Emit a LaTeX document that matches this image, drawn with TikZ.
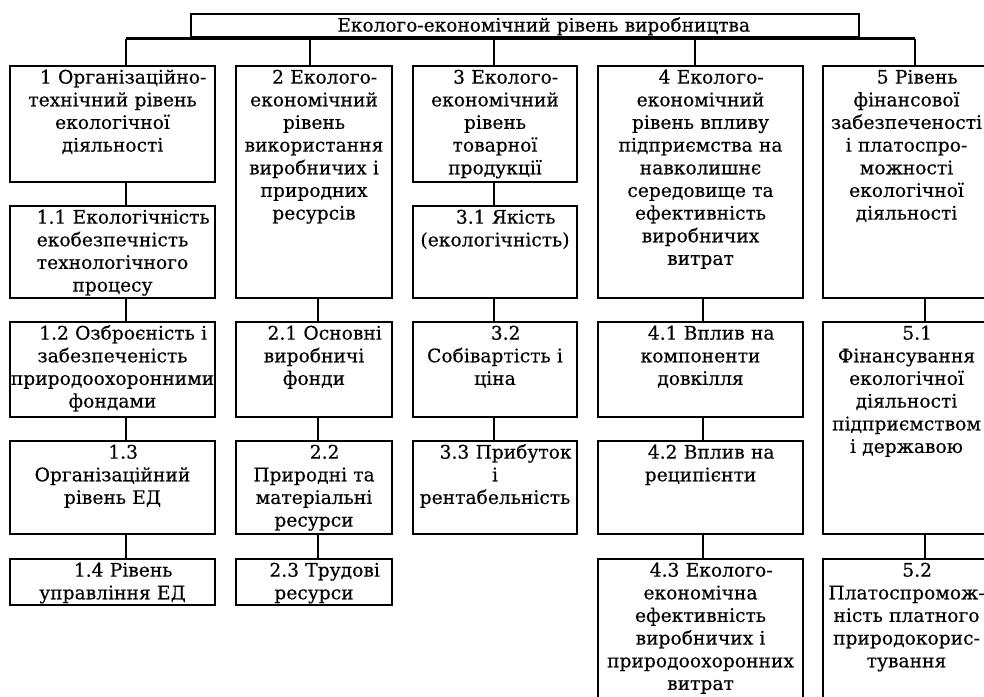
\documentclass[tikz,border=0pt]{standalone}
\usepackage{fontspec}
\setmainfont[FakeBold=0.35]{DejaVu Serif}
\usetikzlibrary{fit}
\tikzset{
  bx/.style={draw, line width=1.8pt, inner sep=0pt},
  tx/.style={align=center, inner sep=0pt, anchor=north,
    font=\fontsize{14pt}{17pt}\selectfont},
  conn/.style={line width=1.8pt}
}
\newcommand\ebox[7]{% name, x1, y1, x2, y2, indent, text
  \node[bx, fit={(#2,#3) (#4,#5)}] (#1) {};
  \pgfmathsetmacro\tw{(#4-#2)*0.75}
  \node[tx, text width=\tw pt] (#1t) at ([yshift=-1.9pt]#1.north)
    {\rule{0pt}{12pt}\hspace*{#6}#7};
}
\newcommand\wide[1]{\makebox[\hsize]{#1}}
\begin{document}
\begin{tikzpicture}[x=0.75pt, y=-0.75pt]
\useasboundingbox (0,0) rectangle (984,696);
% top
\ebox{top}{191}{14}{859}{37}{28pt}{\fontsize{13.9pt}{17pt}\selectfont Еколого-економічний рівень виробництва}
% column 1
\ebox{b1}{10}{66}{215}{182}{16pt}{1 Організаційно-\\технічний рівень\\екологічної\\діяльності}
\ebox{b11}{10}{206}{215}{298}{16pt}{1.1 Екологічність\\екобезпечність\\технологічного\\процесу}
\ebox{b12}{10}{322}{215}{417}{16pt}{1.2 Озброєність і\\забезпеченість\\\wide{природоохоронними}\\фондами}
\ebox{b13}{10}{441}{215}{534}{16pt}{1.3\\Організаційний\\рівень ЕД}
\ebox{b14}{10}{559}{215}{605}{16pt}{1.4 Рівень\\управління ЕД}
% column 2
\ebox{b2}{236}{66}{392}{298}{16pt}{2 Еколого-\\економічний\\рівень\\використання\\виробничих і\\природних\\ресурсів}
\ebox{b21}{236}{322}{392}{417}{16pt}{2.1 Основні\\виробничі\\фонди}
\ebox{b22}{236}{441}{392}{534}{16pt}{2.2\\Природні та\\матеріальні\\ресурси}
\ebox{b23}{236}{559}{392}{605}{16pt}{2.3 Трудові\\ресурси}
% column 3
\ebox{b3}{413}{66}{577}{182}{16pt}{3 Еколого-\\економічний\\рівень\\товарної\\продукції}
\ebox{b31}{413}{206}{577}{298}{16pt}{3.1 Якість\\\wide{(екологічність)}}
\ebox{b32}{413}{322}{577}{417}{16pt}{3.2\\Собівартість і\\ціна}
\ebox{b33}{413}{441}{577}{534}{16pt}{3.3 Прибуток\\і\\рентабельність}
% column 4
\ebox{b4}{598}{66}{803}{298}{16pt}{4 Еколого-\\економічний\\рівень впливу\\підприємства на\\навколишнє\\середовище та\\ефективність\\виробничих\\витрат}
\ebox{b41}{598}{322}{803}{417}{16pt}{4.1 Вплив на\\компоненти\\довкілля}
\ebox{b42}{598}{441}{803}{534}{16pt}{4.2 Вплив на\\реципієнти}
\ebox{b43}{598}{559}{803}{702}{16pt}{4.3 Еколого-\\економічна\\ефективність\\виробничих і\\\wide{природоохоронних}\\витрат}
% column 5
\ebox{b5}{823}{66}{990}{298}{16pt}{5 Рівень\\фінансової\\\wide{забезпеченості}\\і платоспро-\\можності\\екологічної\\діяльності}
\ebox{b51}{823}{322}{990}{534}{16pt}{5.1\\Фінансування\\екологічної\\діяльності\\\wide{підприємством}\\і державою}
\ebox{b52}{823}{559}{990}{702}{16pt}{5.2\\\wide{Платоспромож-}\\\wide{ність платного}\\природокорис-\\тування}
% bus
\coordinate (d1) at (126,38.5);
\coordinate (d2) at (310,38.5);
\coordinate (d3) at (494,38.5);
\coordinate (d4) at (695,38.5);
\coordinate (d5) at (915,38.5);
\draw[conn] (d1) -- (d5);
\draw[conn] (d1) -- (b1.north -| d1);
\draw[conn] (d2) -- (b2.north -| d2);
\draw[conn] (d3) -- (b3.north -| d3);
\draw[conn] (d4) -- (b4.north -| d4);
\draw[conn] (d5) -- (b5.north -| d5);
% column axes
\coordinate (c1) at (126,0);
\coordinate (c2) at (318,0);
\coordinate (c3) at (494,0);
\coordinate (c4) at (703,0);
\coordinate (c5) at (925,0);
\draw[conn] (b1.south -| c1) -- (b11.north -| c1);
\draw[conn] (b11.south -| c1) -- (b12.north -| c1);
\draw[conn] (b12.south -| c1) -- (b13.north -| c1);
\draw[conn] (b13.south -| c1) -- (b14.north -| c1);
\draw[conn] (b2.south -| c2) -- (b21.north -| c2);
\draw[conn] (b21.south -| c2) -- (b22.north -| c2);
\draw[conn] (b22.south -| c2) -- (b23.north -| c2);
\draw[conn] (b3.south -| c3) -- (b31.north -| c3);
\draw[conn] (b31.south -| c3) -- (b32.north -| c3);
\draw[conn] (b32.south -| c3) -- (b33.north -| c3);
\draw[conn] (b4.south -| c4) -- (b41.north -| c4);
\draw[conn] (b41.south -| c4) -- (b42.north -| c4);
\draw[conn] (b42.south -| c4) -- (b43.north -| c4);
\draw[conn] (b5.south -| c5) -- (b51.north -| c5);
\draw[conn] (b51.south -| c5) -- (b52.north -| c5);
\end{tikzpicture}
\end{document}
